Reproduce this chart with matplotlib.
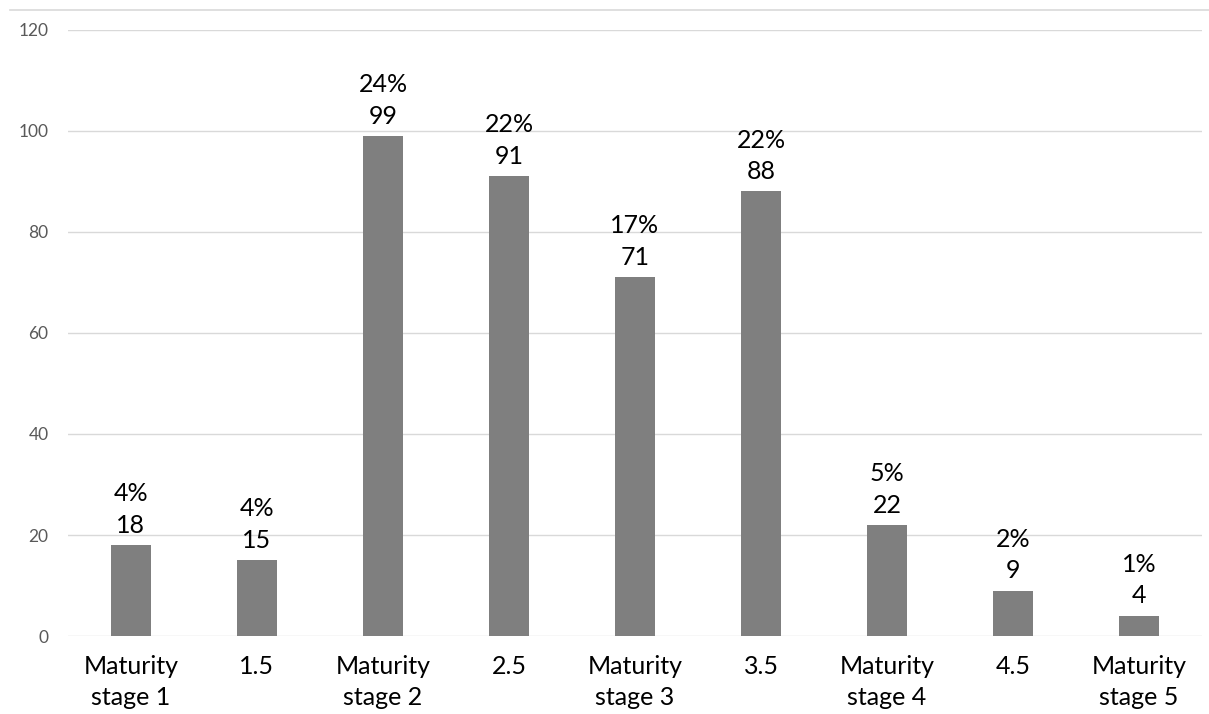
import matplotlib.pyplot as plt
from matplotlib.lines import Line2D

plt.rcParams["font.family"] = ["Lato", "DejaVu Sans"]

categories = ["Maturity\nstage 1", "1.5", "Maturity\nstage 2", "2.5", "Maturity\nstage 3",
              "3.5", "Maturity\nstage 4", "4.5", "Maturity\nstage 5"]
counts = [18, 15, 99, 91, 71, 88, 22, 9, 4]
percents = ["4%", "4%", "24%", "22%", "17%", "22%", "5%", "2%", "1%"]

fig = plt.figure(figsize=(12.09, 7.14), dpi=100)
ax = fig.add_axes([0.0562, 0.1092, 0.938, 0.849])

x = range(len(categories))
ax.bar(x, counts, width=0.32, color="#7f7f7f", zorder=3)

for i, (v, p) in enumerate(zip(counts, percents)):
    ax.annotate(f"{p}\n{v}", (i, v), xytext=(0, 6), textcoords="offset points",
                ha="center", va="bottom", fontsize=18, linespacing=1.45, color="black")

ax.set_xlim(-0.5, len(categories) - 0.5)
ax.set_ylim(0, 120)
ax.set_yticks(range(0, 121, 20))
ax.set_xticks(list(x))
ax.set_xticklabels(categories, fontsize=18, linespacing=1.4)
ax.tick_params(axis="y", labelsize=12.5, labelcolor="#595959", length=0, pad=14)
ax.tick_params(axis="x", length=0, pad=14)
ax.grid(axis="y", color="#d9d9d9", linewidth=1, zorder=0)
for s in ax.spines.values():
    s.set_visible(False)

fig.add_artist(Line2D([10 / 1209, 1.0], [1 - 10 / 714, 1 - 10 / 714],
                      color="#d9d9d9", linewidth=1.2))

fig.savefig("out.png", dpi=100)
